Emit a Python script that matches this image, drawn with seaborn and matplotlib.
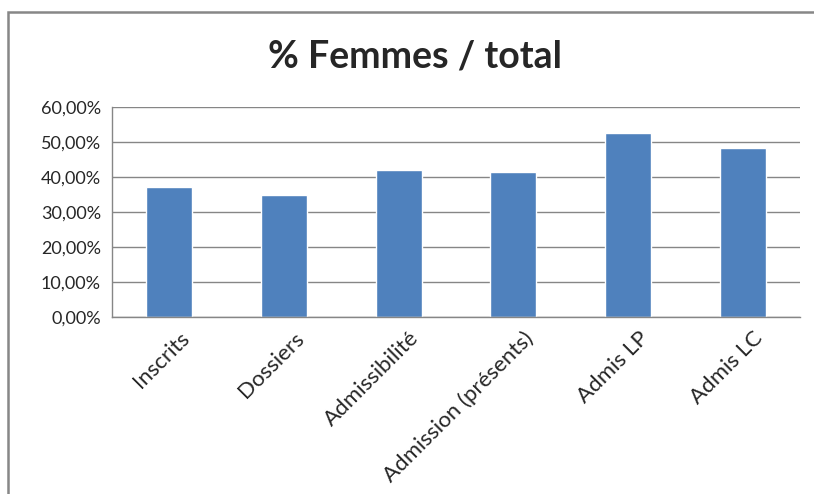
import numpy as np
import pandas as pd
import seaborn as sns
import matplotlib.pyplot as plt
from matplotlib.patches import Rectangle
from matplotlib.ticker import FuncFormatter, FixedLocator
from matplotlib.transforms import ScaledTranslation

# données
categories = ['Inscrits', 'Dossiers', 'Admissibilité', 'Admission (présents)', 'Admis LP', 'Admis LC']
pct_femmes = [37.2, 34.8, 41.9, 41.3, 52.6, 48.2]
yticks = [0, 10, 20, 30, 40, 50, 60]

df = pd.DataFrame({'cat': categories, 'pct': pct_femmes})

sns.set_style('white')
plt.rcParams['font.family'] = ['Lato', 'DejaVu Sans']

fig = plt.figure(figsize=(8.14, 4.94), dpi=100)
ax = fig.add_axes([112 / 814, 1 - 317 / 494, 688 / 814, 210 / 494])

sns.barplot(data=df, x='cat', y='pct', color='#4F81BD', saturation=1, width=0.4, ax=ax)

ax.set_ylim(0, 60)
ax.set_xlim(-0.5, len(categories) - 0.5)
ax.set_yticks(yticks)
ax.yaxis.set_major_formatter(FuncFormatter(lambda v, p: f"{v:.2f}%".replace('.', ',')))
ax.grid(axis='y', color='#868686', linewidth=1)
ax.set_axisbelow(True)

# graduations de l'axe x entre les catégories
ax.xaxis.set_minor_locator(FixedLocator(np.arange(-0.5, len(categories), 1)))
ax.tick_params(axis='x', which='major', length=0, pad=8)
ax.tick_params(axis='x', which='minor', length=5, color='#868686', width=1, direction='out')
ax.tick_params(axis='y', length=5, color='#868686', width=1, direction='out', labelsize=13, pad=3)
ax.set_xticks(range(len(categories)))
ax.set_xticklabels(categories, rotation=45, ha='right', rotation_mode='anchor', fontsize=16)
offset = ScaledTranslation(10 / 100, 0, fig.dpi_scale_trans)
for lab in ax.get_xticklabels():
    lab.set_transform(lab.get_transform() + offset)

for s in ['top', 'right']:
    ax.spines[s].set_visible(False)
for s in ['left', 'bottom']:
    ax.spines[s].set_color('#868686')
    ax.spines[s].set_linewidth(1)

ax.set_xlabel('')
ax.set_ylabel('')

fig.text(415 / 814, 1 - 57 / 494, '% Femmes / total', ha='center', va='center',
         fontsize=27, fontweight='bold')

# cadre du graphique
fig.patches.append(Rectangle((8 / 814, -0.1), 1.2, 1 - 12 / 494 + 0.1, transform=fig.transFigure,
                             fill=False, edgecolor='#878787', linewidth=1.8))

fig.savefig('out.png', dpi=100)
